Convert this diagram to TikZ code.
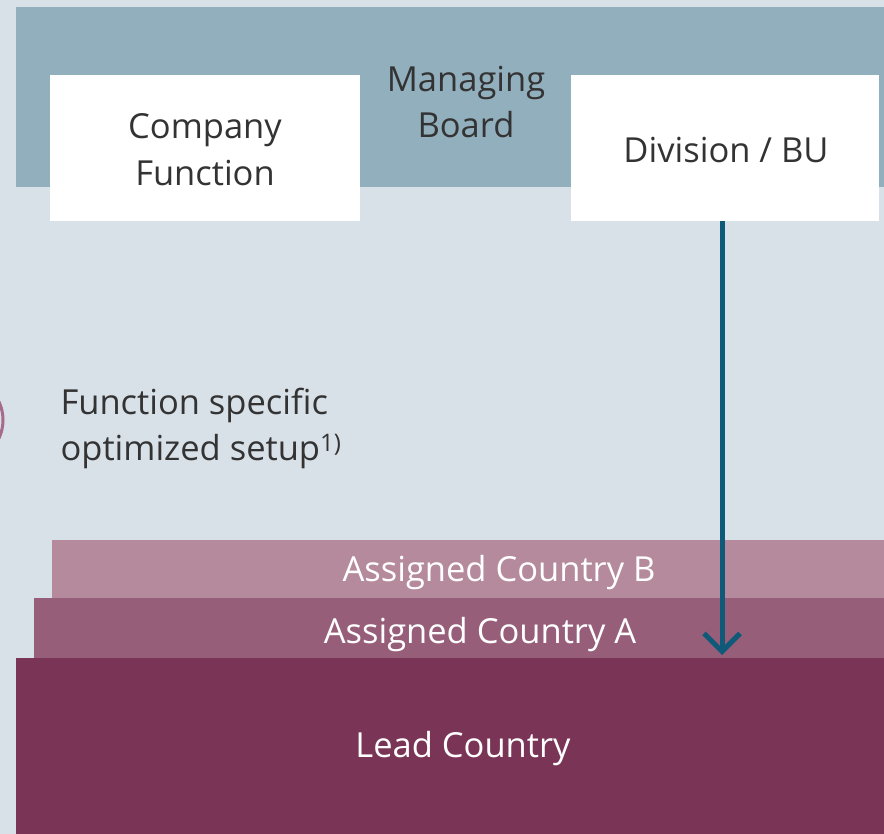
\documentclass[tikz,border=0pt]{standalone}
\usepackage{fontspec}
\setmainfont{Open Sans}
\usetikzlibrary{arrows.meta}
\definecolor{bg}{HTML}{D8E0E8}
\definecolor{band}{HTML}{92AFBD}
\definecolor{ctyB}{HTML}{B58A9C}
\definecolor{ctyA}{HTML}{975E7A}
\definecolor{lead}{HTML}{7A3556}
\definecolor{arr}{HTML}{0F5A78}
\definecolor{txt}{HTML}{333333}
\definecolor{arc}{HTML}{A86A8C}
\tikzset{
  whitebox/.style={fill=white, draw=none, text=txt, align=center, font=\fontsize{34.5}{47}\selectfont},
  darktext/.style={text=txt, font=\fontsize{34.5}{46}\selectfont},
  whitetext/.style={text=white, font=\fontsize{34.5}{47}\selectfont},
}
\begin{document}
\begin{tikzpicture}[x=1pt,y=-1pt]
\useasboundingbox (0,0) rectangle (884,834);
\fill[bg] (0,0) rectangle (884,834);
% top band
\fill[band] (16,7) rectangle (884,187);
% left arc fragment
\begin{scope}
\clip (0,380) rectangle (5,460);
\draw[arc, line width=3pt] (-40,420) circle [radius=43];
\end{scope}
% boxes
\fill[white] (50,75) rectangle (360,221);
\node[whitebox] (cf) at (205,150) {Company\\Function};
\node[darktext, align=center] (mb) at (466,102) {Managing\\Board};
\fill[white] (571,75) rectangle (879,221);
\node[whitebox] (div) at (726,150) {Division / BU};
\coordinate (divbot) at (722,221);
% function text
\node[darktext, align=left, anchor=west] (fs) at (57,428) {Function specific\\optimized setup\textsuperscript{1)}};
% country layers
\fill[ctyB] (52,540) rectangle (884,598);
\node[whitetext] (cb) at (499,573) {Assigned Country B};
\fill[ctyA] (34,598) rectangle (884,658);
\node[whitetext] (ca) at (480,635) {Assigned Country A};
\fill[lead] (16,658) rectangle (884,834);
\node[whitetext] (lc) at (463,749) {Lead Country};
\coordinate (arrend) at (722,655);
\draw[arr, line width=5pt, -{Straight Barb[length=18pt, width=36pt, line width=5pt]}] (divbot) -- (arrend);
\end{tikzpicture}
\end{document}
